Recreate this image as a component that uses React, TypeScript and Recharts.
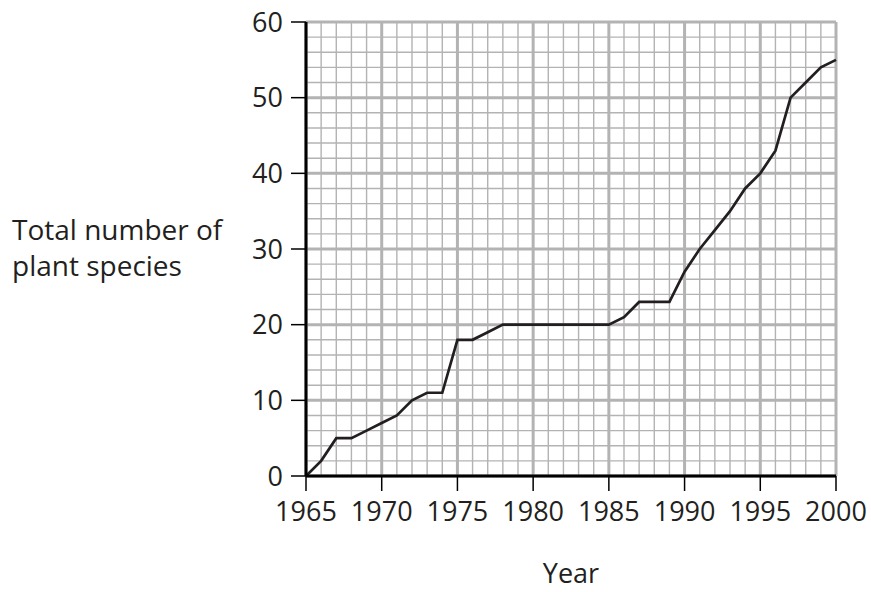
import React from 'react'
import { CartesianGrid, Label, Line, LineChart, XAxis, YAxis } from 'recharts'

const years = [
  1965, 1966, 1967, 1968, 1969, 1970, 1971, 1972, 1973, 1974, 1975, 1976,
  1977, 1978, 1979, 1980, 1981, 1982, 1983, 1984, 1985, 1986, 1987, 1988,
  1989, 1990, 1991, 1992, 1993, 1994, 1995, 1996, 1997, 1998, 1999, 2000,
]
const species = [
  0, 2, 5, 5, 6, 7, 8, 10, 11, 11, 18, 18,
  19, 20, 20, 20, 20, 20, 20, 20, 20, 21, 23, 23,
  23, 27, 30, 32.5, 35, 38, 40, 43, 50, 52, 54, 55,
]
const xTicks = [1965, 1970, 1975, 1980, 1985, 1990, 1995, 2000]
const yTicks = [0, 10, 20, 30, 40, 50, 60]
const yMinor = [0, 2, 4, 6, 8, 10, 12, 14, 16, 18, 20, 22, 24, 26, 28, 30, 32, 34, 36, 38, 40, 42, 44, 46, 48, 50, 52, 54, 56, 58, 60]

const data = years.map((y, i) => ({ year: y, total: species[i] }))

const FONT = "'Open Sans', sans-serif"
const INK = '#231f20'

function YTitle(props: any) {
  return (
    <text x={12} fill={INK} fontSize={28} fontFamily={FONT} textAnchor="start">
      <tspan x={12} y={240}>Total number of</tspan>
      <tspan x={12} y={276}>plant species</tspan>
    </text>
  )
}

function XTitle(props: any) {
  const vb = props.viewBox
  return (
    <text x={vb.x + vb.width / 2} y={583} fill={INK} fontSize={27} fontFamily={FONT} textAnchor="middle">
      Year
    </text>
  )
}

export default function App() {
  const tick = { fill: INK, fontSize: 27, fontFamily: FONT }
  return (
    <div style={{ position: 'absolute', left: 0, top: 0, background: '#fff' }}>
      <LineChart width={871} height={592} data={data} margin={{ top: 22, right: 35, bottom: 0, left: 0 }}>
        <CartesianGrid
          stroke="#b3b3b3"
          strokeWidth={1.4}
          verticalValues={years}
          horizontalValues={yMinor}
        />
        <CartesianGrid
          stroke="#b3b3b3"
          strokeWidth={3}
          verticalValues={xTicks}
          horizontalValues={yTicks}
        />
        <XAxis
          dataKey="year"
          type="number"
          domain={[1965, 2000]}
          ticks={xTicks}
          height={116}
          tickSize={15}
          tickMargin={11}
          tick={tick}
          axisLine={{ stroke: '#000', strokeWidth: 3 }}
          tickLine={{ stroke: '#000', strokeWidth: 1.5 }}
          interval={0}
        >
          <Label content={XTitle} />
        </XAxis>
        <YAxis
          type="number"
          domain={[0, 60]}
          ticks={yTicks}
          width={306}
          tickSize={15}
          tickMargin={8}
          tick={tick}
          axisLine={{ stroke: '#000', strokeWidth: 3 }}
          tickLine={{ stroke: '#000', strokeWidth: 1.5 }}
          interval={0}
        >
          <Label content={YTitle} />
        </YAxis>
        <Line
          dataKey="total"
          type="linear"
          stroke="#231f20"
          strokeWidth={2.7}
          dot={false}
          isAnimationActive={false}
        />
      </LineChart>
    </div>
  )
}
